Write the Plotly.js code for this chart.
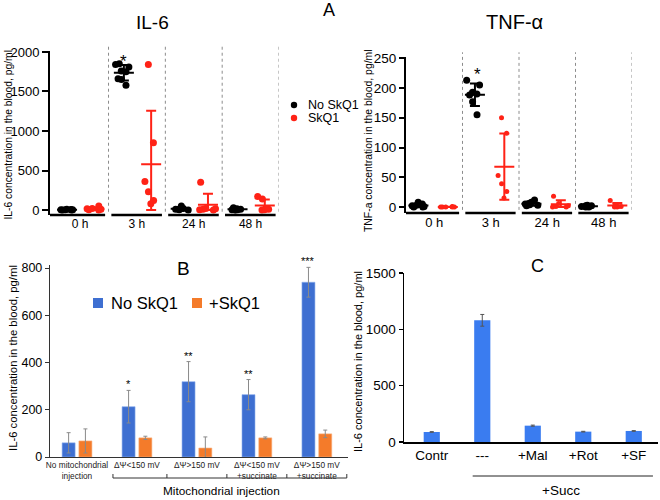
<!DOCTYPE html>
<html><head><meta charset="utf-8">
<script src="https://cdn.plot.ly/plotly-3.0.1.min.js"></script>
<style>html,body{margin:0;padding:0;background:#fff}#chart{width:660px;height:500px}</style>
</head><body><div id="chart"></div>
<script>
// ---------------- DATA ----------------
const timeLabels = ['0 h', '3 h', '24 h', '48 h'];
// Panel A, IL-6 (pg/ml), one sub-array per time point
const il6NoSkQ1 = [[0, 3, 6, 0, 10, 2, 5], [1850, 1840, 1810, 1760, 1750, 1660, 1650, 1580], [50, 20, 10, 5, 0, 15, 10], [30, 15, 5, 0, 2, 10, 5]];
const il6SkQ1 = [[50, 20, 10, 5, 0, 15], [1840, 850, 360, 230, 80, 120], [350, 20, 10, 5, 15, 0], [170, 140, 20, 10, 5, 0]];
// Panel A, TNF-a (pg/ml)
const tnfNoSkQ1 = [[0, 2, 5, 8, 1, 3, 0], [213, 205, 193, 190, 188, 177, 155], [12, 8, 5, 3, 2, 6, 4], [3, 2, 1, 0, 0, 1, 2]];
const tnfSkQ1 = [[0, 0, 1, 0, 0, 0], [150, 124, 53, 39, 26, 15], [18, 6, 2, 0, 0, 1], [11, 3, 1, 0, 0, 1]];

// Panel B
const bCategories = ['No mitochondrial<br>injection', 'ΔΨ&lt;150 mV', 'ΔΨ&gt;150 mV', 'ΔΨ&lt;150 mV<br>+succinate', 'ΔΨ&gt;150 mV<br>+succinate'];
const bNoSkQ1 = [60, 213, 319, 264, 740];
const bNoSkQ1Err = [43, 69, 85, 64, 63];
const bSkQ1 = [68, 81, 38, 81, 98];
const bSkQ1Err = [51, 7, 47, 4, 16];
const bStars = ['', '*', '**', '**', '***'];

// Panel C
const cCategories = ['Contr', '---', '+Mal', '+Rot', '+SF'];
const cValues = [89, 1080, 145, 92, 98];
const cErr = [3, 52, 5, 3, 3];

// ---------------- HELPERS ----------------
const W = 660, H = 500;
const px = x => x / W;
const py = y => 1 - y / H;
const FONT = 'Liberation Sans, Arial, Helvetica, sans-serif';
const RED = '#ff2216';

function flat(groups) {
  const xs = [], ys = [];
  groups.forEach((g, i) => g.forEach(v => { xs.push(i); ys.push(v); }));
  return { xs, ys };
}
const mean = a => a.reduce((s, v) => s + v, 0) / a.length;
const sd = a => { const m = mean(a); return Math.sqrt(a.reduce((s, v) => s + (v - m) * (v - m), 0) / (a.length - 1)); };

function dotSeries(groups, color, xa, ya, center, size) {
  const f = flat(groups);
  const idx = groups.map((_, i) => i);
  const means = groups.map(mean);
  const sds = groups.map(sd);
  const half = 0.15;
  return [
    { type: 'box', x: f.xs, y: f.ys, xaxis: xa, yaxis: ya, boxpoints: 'all', jitter: 1,
      pointpos: center / half, width: 2 * half, whiskerwidth: 0,
      line: { width: 0, color: 'rgba(0,0,0,0)' }, fillcolor: 'rgba(0,0,0,0)',
      marker: { color: color, size: size }, hoverinfo: 'skip', showlegend: false },
    { type: 'bar', x: idx, y: means, xaxis: xa, yaxis: ya, offset: center - 0.01, width: 0.02,
      marker: { color: 'rgba(0,0,0,0)' }, hoverinfo: 'skip', showlegend: false,
      error_y: { type: 'data', symmetric: false, array: sds, arrayminus: sds.map((s, i) => Math.min(s, means[i])),
        color: color, thickness: 2, width: 5 } },
    { type: 'bar', x: idx, y: means, xaxis: xa, yaxis: ya, offset: center - 0.01, width: 0.02,
      marker: { color: 'rgba(0,0,0,0)' }, hoverinfo: 'skip', showlegend: false,
      error_y: { type: 'data', array: idx.map(() => 0), color: color, thickness: 2, width: 10 } }
  ];
}

const traces = [].concat(
  dotSeries(il6NoSkQ1, '#000', 'x', 'y', -0.23, 7),
  dotSeries(il6SkQ1, RED, 'x', 'y', 0.25, 7),
  dotSeries(tnfNoSkQ1, '#000', 'x2', 'y2', -0.28, 7),
  dotSeries(tnfSkQ1, RED, 'x2', 'y2', 0.24, 5),
  [
    { type: 'bar', x: bCategories.map((_, i) => i), y: bNoSkQ1, xaxis: 'x3', yaxis: 'y3', offset: -0.248, width: 0.217,
      marker: { color: '#3e6fd1', line: { width: 0.6, color: '#8fb0ee' } }, showlegend: false,
      error_y: { type: 'data', array: bNoSkQ1Err, color: '#8a8a8a', thickness: 1, width: 2 } },
    { type: 'bar', x: bCategories.map((_, i) => i), y: bSkQ1, xaxis: 'x3', yaxis: 'y3', offset: 0.032, width: 0.217,
      marker: { color: '#f47b2a', line: { width: 0.6, color: '#f9b080' } }, showlegend: false,
      error_y: { type: 'data', array: bSkQ1Err, color: '#8a8a8a', thickness: 1, width: 2 } },
    { type: 'bar', x: cCategories.map((_, i) => i), y: cValues, xaxis: 'x4', yaxis: 'y4', offset: -0.16, width: 0.32,
      marker: { color: '#3a7cf0' }, showlegend: false,
      error_y: { type: 'data', array: cErr, color: '#555', thickness: 1, width: 2 } }
  ]
);

// ---------------- SHAPES ----------------
const shapes = [];
function groupDecor(xa, ya, rangeMin) {
  [0.5, 1.5, 2.5, 3.5].forEach(s => shapes.push({ type: 'line', xref: xa, yref: ya + ' domain', x0: s, x1: s, y0: 0.02, y1: 1.03,
    line: { color: '#8c8c8c', width: 1, dash: 'dot' } }));
  [0, 1, 2, 3].forEach(g => shapes.push({ type: 'line', xref: xa, yref: ya + ' domain', x0: g === 0 ? rangeMin : g - 0.45, x1: g + 0.44, y0: 0, y1: 0,
    line: { color: '#000', width: 2.5 } }));
}
groupDecor('x', 'y', -0.53);
groupDecor('x2', 'y2', -0.5);

// panel B bracket
const bracketTicks = [0.6, 1.5, 2.5, 3.5, 4.5];
shapes.push({ type: 'line', xref: 'x3', yref: 'paper', x0: 0.6, x1: 4.5, y0: py(478), y1: py(478), line: { color: '#333', width: 1 } });
bracketTicks.forEach(t => shapes.push({ type: 'line', xref: 'x3', yref: 'paper', x0: t, x1: t, y0: py(478), y1: py(474), line: { color: '#333', width: 1 } }));
// panel C +Succ line
shapes.push({ type: 'line', xref: 'x4', yref: 'paper', x0: 0.81, x1: 4.38, y0: py(476), y1: py(476), line: { color: '#222', width: 1 } });

// legends (manual)
shapes.push({ type: 'circle', xref: 'paper', yref: 'paper', x0: px(290.8), x1: px(297.2), y0: py(101.8), y1: py(108.2), fillcolor: '#000', line: { width: 0 } });
shapes.push({ type: 'circle', xref: 'paper', yref: 'paper', x0: px(290.8), x1: px(297.2), y0: py(114.8), y1: py(121.2), fillcolor: RED, line: { width: 0 } });
shapes.push({ type: 'rect', xref: 'paper', yref: 'paper', x0: px(93), x1: px(103), y0: py(298), y1: py(308), fillcolor: '#3e6fd1', line: { width: 0 } });
shapes.push({ type: 'rect', xref: 'paper', yref: 'paper', x0: px(192), x1: px(202), y0: py(298), y1: py(308), fillcolor: '#f47b2a', line: { width: 0 } });

// ---------------- ANNOTATIONS ----------------
const ann = [];
function txt(text, x, y, size, opts) {
  ann.push(Object.assign({ text: text, xref: 'paper', yref: 'paper', x: px(x), y: py(y), showarrow: false,
    xanchor: 'center', yanchor: 'middle', font: { family: FONT, size: size, color: '#000' } }, opts || {}));
}
txt('IL-6', 152, 22, 19);
txt('TNF-α', 514, 22, 20);
txt('A', 329, 10, 18);
txt('B', 183, 268, 19);
txt('C', 537, 266, 18);
txt('IL-6 concentration in the blood, pg/ml', 7.5, 135, 10.3, { textangle: -90 });
txt('TNF-a concentration in the blood, pg/ml', 368, 141, 10.4, { textangle: -90 });
txt('IL-6 concentration in the blood, pg/ml', 13, 358, 11.3, { textangle: -90 });
txt('IL-6 concentration in the blood, pg/ml', 358, 362, 11, { textangle: -90 });
txt('No SkQ1', 306, 105, 12.5, { xanchor: 'left' });
txt('SkQ1', 306, 118, 12.5, { xanchor: 'left' });
txt('No SkQ1', 109, 303, 16.5, { xanchor: 'left' });
txt('+SkQ1', 207, 303, 16.5, { xanchor: 'left' });
txt('Mitochondrial injection', 221, 491, 11.8);
txt('+Succ', 561, 490, 13.5);
// significance
ann.push({ text: '*', xref: 'x', yref: 'paper', x: 1 - 0.23, y: py(50), showarrow: false, font: { family: FONT, size: 17, color: '#000' } });
ann.push({ text: '*', xref: 'x2', yref: 'paper', x: 1 - 0.23, y: py(63), showarrow: false, font: { family: FONT, size: 17, color: '#000' } });
bStars.forEach((s, i) => {
  if (!s) return;
  ann.push({ text: s, xref: 'x3', yref: 'y3', x: i - 0.14, y: bNoSkQ1[i] + bNoSkQ1Err[i], yanchor: 'bottom', yshift: -2,
    showarrow: false, font: { family: FONT, size: 11, color: '#000' } });
});

// ---------------- LAYOUT ----------------
const axBase = { showgrid: false, zeroline: false, color: '#000', tickfont: { family: FONT, color: '#000' } };
const layout = {
  width: W, height: H, margin: { l: 0, r: 0, t: 0, b: 0 }, paper_bgcolor: '#fff', plot_bgcolor: 'rgba(0,0,0,0)',
  showlegend: false, barmode: 'overlay', font: { family: FONT, color: '#000' },
  xaxis: Object.assign({}, axBase, { domain: [px(50), px(279)], range: [-0.53, 3.5], anchor: 'y', tickvals: [0, 1, 2, 3], ticktext: timeLabels,
    showline: false, ticks: '', tickfont: { family: FONT, size: 12, color: '#000' }, fixedrange: true }),
  yaxis: Object.assign({}, axBase, { domain: [py(215), py(51)], range: [-63, 2012], anchor: 'x', tickvals: [0, 500, 1000, 1500, 2000],
    showline: true, linewidth: 2, linecolor: '#000', ticks: 'outside', ticklen: 6, tickwidth: 2, tickfont: { family: FONT, size: 13, color: '#000' } }),
  xaxis2: Object.assign({}, axBase, { domain: [px(406), px(632)], range: [-0.5, 3.5], anchor: 'y2', tickvals: [0, 1, 2, 3], ticktext: timeLabels,
    showline: false, ticks: '', tickfont: { family: FONT, size: 13, color: '#000' } }),
  yaxis2: Object.assign({}, axBase, { domain: [py(213), py(57)], range: [-10, 252], anchor: 'x2', tickvals: [0, 50, 100, 150, 200, 250],
    showline: true, linewidth: 2, linecolor: '#000', ticks: 'outside', ticklen: 5, tickwidth: 2, tickfont: { family: FONT, size: 13.5, color: '#000' } }),
  xaxis3: Object.assign({}, axBase, { domain: [px(50), px(348)], range: [-0.45, 4.52], anchor: 'y3', tickvals: [0, 1, 2, 3, 4], ticktext: bCategories,
    showline: true, linewidth: 1.2, linecolor: '#333', ticks: '', tickfont: { family: FONT, size: 8.3, color: '#222' } }),
  yaxis3: Object.assign({}, axBase, { domain: [py(457), py(265)], range: [0, 813], anchor: 'x3', tickvals: [0, 200, 400, 600, 800],
    showline: true, linewidth: 1.2, linecolor: '#333', ticks: 'outside', ticklen: 4, tickwidth: 1, tickcolor: '#333', tickfont: { family: FONT, size: 12.5, color: '#000' } }),
  xaxis4: Object.assign({}, axBase, { domain: [px(404), px(658)], range: [-0.55, 4.48], anchor: 'y4', tickvals: [0, 1, 2, 3, 4], ticktext: cCategories,
    showline: true, linewidth: 1.5, linecolor: '#000', ticks: '', tickfont: { family: FONT, size: 13.5, color: '#000' } }),
  yaxis4: Object.assign({}, axBase, { domain: [py(442), py(273)], range: [0, 1500], anchor: 'x4', tickvals: [0, 500, 1000, 1500],
    showline: true, linewidth: 1.5, linecolor: '#000', ticks: 'outside', ticklen: 4, tickwidth: 1.5, tickfont: { family: FONT, size: 13.5, color: '#000' } }),
  shapes: shapes,
  annotations: ann
};

Plotly.newPlot('chart', traces, layout, { displayModeBar: false, staticPlot: true });
</script>
</body></html>
